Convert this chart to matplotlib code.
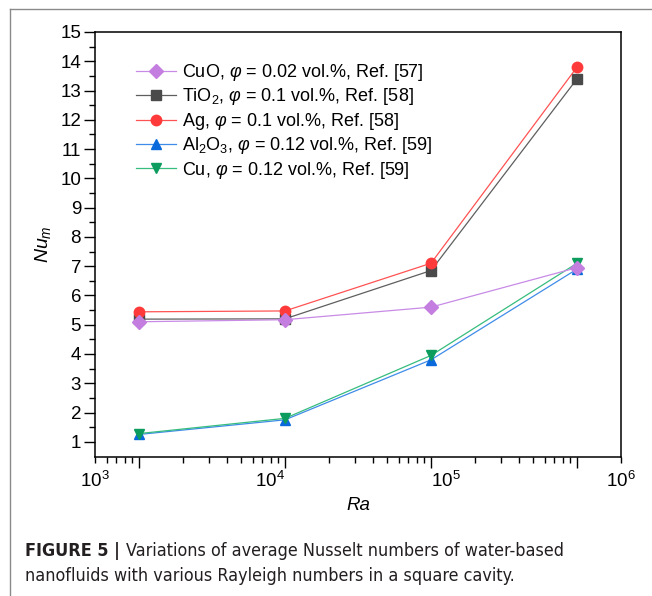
import matplotlib
matplotlib.use("Agg")
import matplotlib.pyplot as plt
from matplotlib.lines import Line2D
from matplotlib import font_manager as fm
import numpy as np

# ---- data ----
ra = [1e3, 1e4, 1e5, 1e6]
cuo = [5.10, 5.17, 5.60, 6.95]
tio2 = [5.19, 5.20, 6.85, 13.40]
ag = [5.44, 5.47, 7.10, 13.80]
al2o3 = [1.25, 1.75, 3.80, 6.90]
cu = [1.28, 1.80, 3.95, 7.10]
labels = [r"CuO, $\varphi$ = 0.02 vol.%, Ref. [57]",
          r"TiO$_2$, $\varphi$ = 0.1 vol.%, Ref. [58]",
          r"Ag, $\varphi$ = 0.1 vol.%, Ref. [58]",
          r"Al$_2$O$_3$, $\varphi$ = 0.12 vol.%, Ref. [59]",
          r"Cu, $\varphi$ = 0.12 vol.%, Ref. [59]"]
xtick_labels = [r"10$^3$", r"10$^4$", r"10$^5$", r"10$^6$"]
yticks = list(range(1, 16))
caption_bold = "FIGURE 5 | "
caption_1 = "Variations of average Nusselt numbers of water-based"
caption_2 = "nanofluids with various Rayleigh numbers in a square cavity."

names = {f.name for f in fm.fontManager.ttflist}

plt.rcParams["font.family"] = ["Liberation Sans", "DejaVu Sans"]
plt.rcParams["mathtext.fontset"] = "custom"
plt.rcParams["mathtext.rm"] = "Liberation Sans"
plt.rcParams["mathtext.it"] = "Liberation Sans:italic"
plt.rcParams["mathtext.bf"] = "Liberation Sans:bold"

W, H = 652, 596
fig = plt.figure(figsize=(W / 100, H / 100), dpi=100)
L, R, T, B = 95, 621, 32, 457
ax = fig.add_axes([L / W, 1 - B / H, (R - L) / W, (B - T) / H])

styles = [
    (cuo, "D", "#C47EE0", "#C88BE6", 6.8, 10),
    (tio2, "s", "#4A4A4A", "#5E5E5E", 6.5, 5),
    (ag, "o", "#FF3A3A", "#FF5252", 7.5, 6),
    (al2o3, "^", "#0A6ADB", "#3F8CE8", 7.8, 7),
    (cu, "v", "#0C9C5E", "#36BC7E", 7.8, 8),
]
for (vals, mk, mc, lc, ms, z), lab in zip(styles, labels):
    ax.plot(ra, vals, color=lc, lw=0.9, zorder=z, label=lab,
            marker=mk, markersize=ms, markerfacecolor=mc, markeredgecolor=mc)

ax.set_xscale("log")
ax.set_xlim(500, 2e6)
ax.set_ylim(0.48, 15)
ax.set_yticks(yticks)
ax.set_yticks(np.arange(1.5, 15, 1.0), minor=True)
ax.set_xticks(ra)
ax.set_xticklabels([])
ax.xaxis.set_minor_locator(matplotlib.ticker.LogLocator(base=10, subs=np.arange(2, 10)))
ax.xaxis.set_minor_formatter(matplotlib.ticker.NullFormatter())
ax.tick_params(which="major", direction="out", length=8, width=1.0, labelsize=13.5, pad=2)
ax.tick_params(which="minor", direction="out", length=4, width=1.0)
for s in ax.spines.values():
    s.set_linewidth(1.1)

# tick labels as drawn in the reference (evenly spread along the axis)
ax2 = ax.twiny()
ax2.set_xscale("log")
ax2.set_xlim(1e3, 1e6)
ax2.xaxis.set_ticks_position("bottom")
ax2.xaxis.set_label_position("bottom")
ax2.set_xticks(ra)
ax2.set_xticklabels(xtick_labels)
ax2.xaxis.set_minor_locator(matplotlib.ticker.NullLocator())
ax2.tick_params(axis="x", length=0, pad=10, labelsize=13.5)
for s in ax2.spines.values():
    s.set_visible(False)
ax2.set_xlabel("Ra", fontsize=13.5, style="italic", labelpad=4)

ax.set_ylabel(r"$Nu_m$", fontsize=14, labelpad=5)

leg = ax.legend(loc="upper left", bbox_to_anchor=(136 / W, 1 - 62 / H),
                bbox_transform=fig.transFigure, frameon=False, fontsize=13,
                handlelength=2.2, handletextpad=0.35, labelspacing=0.19,
                borderpad=0, borderaxespad=0)

# outer frame (partially visible)
fig.add_artist(Line2D([10 / W, 10 / W], [0, 1 - 9 / H], color="#8a8a8a", lw=1.0,
                      transform=fig.transFigure))
fig.add_artist(Line2D([10 / W, 1], [1 - 9 / H, 1 - 9 / H], color="#8a8a8a", lw=1.0,
                      transform=fig.transFigure))

if "Liberation Sans Narrow" in names:
    cap_kw = dict(family="Liberation Sans Narrow")
else:
    cap_kw = dict(family="DejaVu Sans", stretch="condensed")
cap_size = 12.9
t1 = fig.text(25 / W, 1 - 556 / H, caption_bold, fontsize=cap_size, weight="bold",
              color="#231f20", va="baseline", **cap_kw)
fig.canvas.draw()
bb = t1.get_window_extent()
t2 = fig.text(bb.x1 / W, 1 - 556 / H, caption_1, fontsize=cap_size,
              color="#231f20", va="baseline", **cap_kw)
t3 = fig.text(25 / W, 1 - 581 / H, caption_2, fontsize=cap_size,
              color="#231f20", va="baseline", **cap_kw)

fig.savefig("out.png", dpi=100)
